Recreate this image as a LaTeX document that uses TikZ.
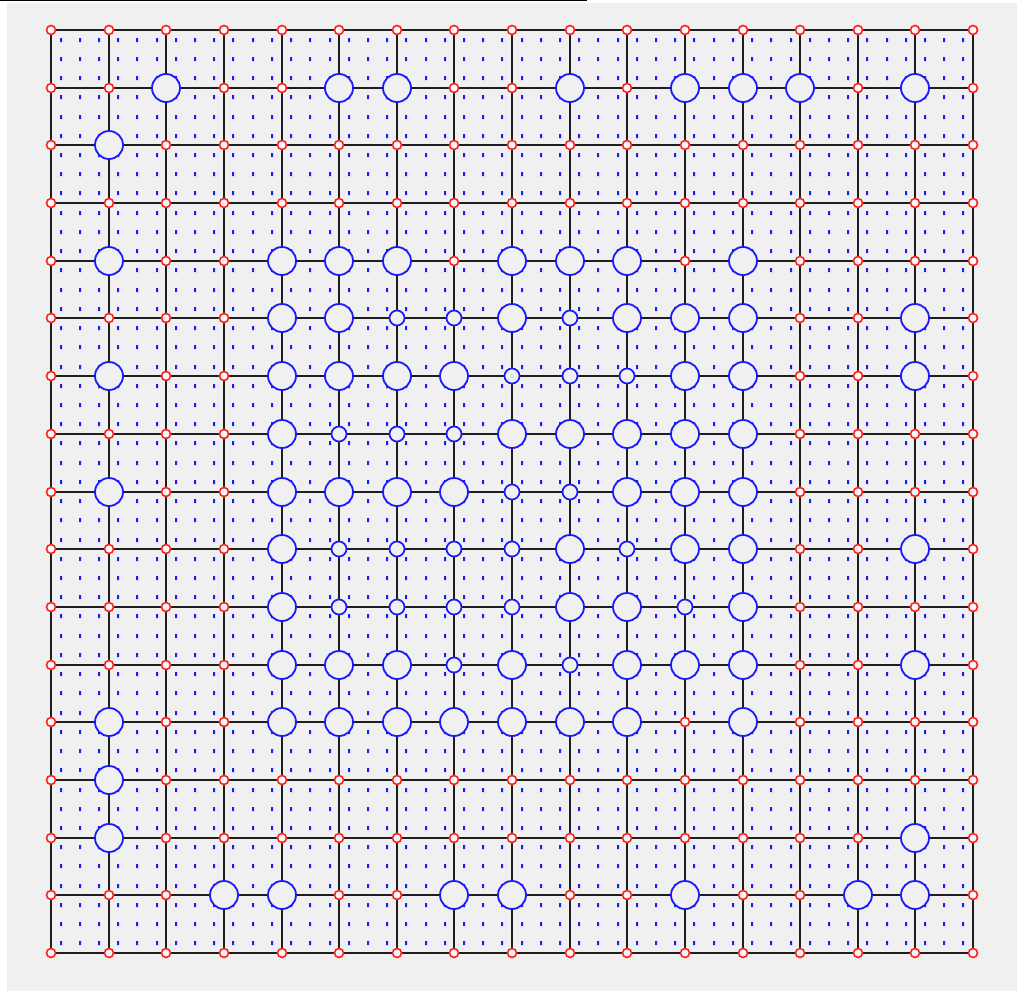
\documentclass[tikz,border=0pt]{standalone}
\usetikzlibrary{shapes.geometric}
\definecolor{bggray}{HTML}{F0F0F0}
\definecolor{gridc}{HTML}{1E1E1E}
\definecolor{bluec}{HTML}{1A1AFF}
\definecolor{redc}{HTML}{FF2020}
\tikzset{
  gridline/.style={draw=gridc, line width=2pt},
  dotc/.style={fill=bluec},
  mkr/.style={circle, draw=redc, fill=white!60!bggray, line width=1.6pt, inner sep=0pt, minimum size=9pt},
  mkB/.style={circle, draw=bluec, fill=bggray, line width=1.8pt, inner sep=0pt, minimum size=28pt},
  mks/.style={circle, draw=bluec, fill=bggray, line width=1.7pt, inner sep=0pt, minimum size=15pt},
}
\begin{document}
\begin{tikzpicture}[x=1pt,y=-1pt]
\useasboundingbox (0,0) rectangle (1017,991);
\fill[white] (0,0) rectangle (1017,991);
\fill[bggray] (7,3) rectangle (1017,991);
\fill[black] (0,0) rectangle (587,1.4);
% intersections
\foreach \i in {0,...,16}{
  \foreach \j in {0,...,16}{
    \coordinate (p-\i-\j) at ({round(51+57.625*\i)},{round(30+57.6875*\j)});
  }
}
% dots
\fill[dotc] \foreach \m in {0,...,47}{\foreach \n in {0,...,47}{
  ({round(51+9.604167*(2*\m+1))-1},{round(30+9.614583*(2*\n+1))-2}) rectangle ++(2,4)}};
% grid lines
\foreach \k in {0,...,16}{
  \draw[gridline] (p-0-\k) -- (p-16-\k);
  \draw[gridline] (p-\k-0) -- (p-\k-16);
}
% markers
\foreach \row [count=\j from 0] in {
 {r,r,r,r,r,r,r,r,r,r,r,r,r,r,r,r,r},
 {r,r,B,r,r,B,B,r,r,B,r,B,B,B,r,B,r},
 {r,B,r,r,r,r,r,r,r,r,r,r,r,r,r,r,r},
 {r,r,r,r,r,r,r,r,r,r,r,r,r,r,r,r,r},
 {r,B,r,r,B,B,B,r,B,B,B,r,B,r,r,r,r},
 {r,r,r,r,B,B,s,s,B,s,B,B,B,r,r,B,r},
 {r,B,r,r,B,B,B,B,s,s,s,B,B,r,r,B,r},
 {r,r,r,r,B,s,s,s,B,B,B,B,B,r,r,r,r},
 {r,B,r,r,B,B,B,B,s,s,B,B,B,r,r,r,r},
 {r,r,r,r,B,s,s,s,s,B,s,B,B,r,r,B,r},
 {r,r,r,r,B,s,s,s,s,B,B,s,B,r,r,r,r},
 {r,r,r,r,B,B,B,s,B,s,B,B,B,r,r,B,r},
 {r,B,r,r,B,B,B,B,B,B,B,r,B,r,r,r,r},
 {r,B,r,r,r,r,r,r,r,r,r,r,r,r,r,r,r},
 {r,B,r,r,r,r,r,r,r,r,r,r,r,r,r,B,r},
 {r,r,r,B,B,r,r,B,B,r,r,B,r,r,B,B,r},
 {r,r,r,r,r,r,r,r,r,r,r,r,r,r,r,r,r}}{
  \foreach \t [count=\i from 0] in \row {
    \node[mk\t] (n-\i-\j) at (p-\i-\j) {};
  }
}
\end{tikzpicture}
\end{document}
